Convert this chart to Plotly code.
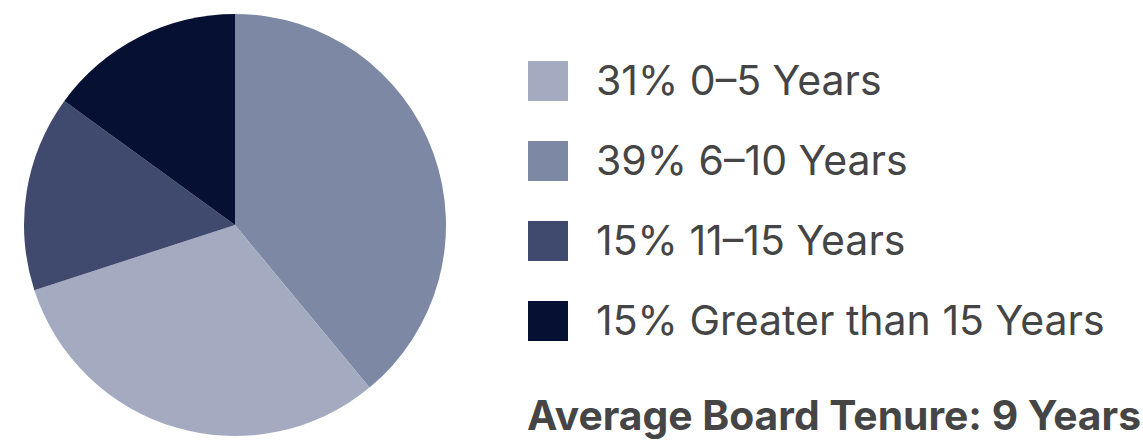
import plotly.graph_objects as go

# Board tenure distribution
labels = ["0–5 Years", "6–10 Years", "11–15 Years", "Greater than 15 Years"]
shares = [31, 39, 15, 15]
colors = ["#A4AAC0", "#7D88A5", "#404A6E", "#061033"]
summary = "Average Board Tenure: 9 Years"

# slices go clockwise from 12 o'clock in this order
slice_order = [1, 0, 2, 3]

W, H = 1143, 442
TEXT = "#454545"
FONT = "Inter, Liberation Sans, Arial, sans-serif"


def px(x):
    return x / W


def py(y):
    return 1 - y / H


fig = go.Figure(
    go.Pie(
        labels=[labels[i] for i in slice_order],
        values=[shares[i] for i in slice_order],
        marker=dict(colors=[colors[i] for i in slice_order], line=dict(width=0)),
        sort=False,
        direction="clockwise",
        rotation=0,
        textinfo="none",
        hoverinfo="label+percent",
        domain=dict(x=[px(23), px(447)], y=[py(436), py(14)]),
        showlegend=False,
    )
)

# legend: swatch plus "NN% label" for each category
row_y0, row_step = 81, 80
for k, (lab, val, col) in enumerate(zip(labels, shares, colors)):
    cy = row_y0 + k * row_step
    fig.add_shape(
        type="rect", xref="paper", yref="paper",
        x0=px(528), x1=px(568), y0=py(cy + 20), y1=py(cy - 20),
        fillcolor=col, line=dict(width=0),
    )
    fig.add_annotation(
        xref="paper", yref="paper", x=px(594), y=py(cy - 1),
        xanchor="left", yanchor="middle", showarrow=False,
        text=f"{val}% {lab}",
        font=dict(family=FONT, size=41, color=TEXT),
    )

fig.add_annotation(
    xref="paper", yref="paper", x=px(525), y=py(415),
    xanchor="left", yanchor="middle", showarrow=False,
    text=f"<b>{summary}</b>",
    font=dict(family=FONT, size=40.8, color=TEXT),
)

fig.update_layout(
    width=W, height=H,
    margin=dict(l=0, r=0, t=0, b=0),
    paper_bgcolor="white", plot_bgcolor="white",
)

fig.write_html("out.html")
